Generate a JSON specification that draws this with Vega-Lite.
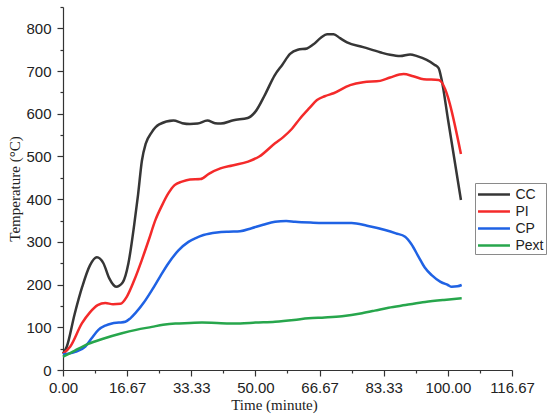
{
  "$schema": "https://vega.github.io/schema/vega-lite/v6.json",
  "width": 449,
  "height": 363,
  "autosize": "none",
  "padding": {"left": 63, "top": 7, "right": 38, "bottom": 49},
  "background": "white",
  "config": {"view": {"stroke": null}},
  "data": {
    "values": [
      {"series": "CC", "time": 0, "temp": 38},
      {"series": "CC", "time": 1, "temp": 55},
      {"series": "CC", "time": 3, "temp": 130},
      {"series": "CC", "time": 5, "temp": 195},
      {"series": "CC", "time": 7, "temp": 245},
      {"series": "CC", "time": 8.8, "temp": 264},
      {"series": "CC", "time": 10.5, "temp": 250},
      {"series": "CC", "time": 12, "temp": 215},
      {"series": "CC", "time": 13.8, "temp": 195},
      {"series": "CC", "time": 15.5, "temp": 205},
      {"series": "CC", "time": 17, "temp": 250},
      {"series": "CC", "time": 18.5, "temp": 340},
      {"series": "CC", "time": 19.5, "temp": 410},
      {"series": "CC", "time": 20.5, "temp": 490},
      {"series": "CC", "time": 21.5, "temp": 530},
      {"series": "CC", "time": 23, "temp": 556},
      {"series": "CC", "time": 25, "temp": 575},
      {"series": "CC", "time": 28.7, "temp": 584},
      {"series": "CC", "time": 31, "temp": 578},
      {"series": "CC", "time": 33, "temp": 576},
      {"series": "CC", "time": 35, "temp": 577},
      {"series": "CC", "time": 37.5, "temp": 584},
      {"series": "CC", "time": 39.5, "temp": 578},
      {"series": "CC", "time": 41, "temp": 577},
      {"series": "CC", "time": 44.3, "temp": 585},
      {"series": "CC", "time": 48, "temp": 590},
      {"series": "CC", "time": 50, "temp": 605},
      {"series": "CC", "time": 52.5, "temp": 645},
      {"series": "CC", "time": 55, "temp": 690},
      {"series": "CC", "time": 57, "temp": 715},
      {"series": "CC", "time": 59, "temp": 740},
      {"series": "CC", "time": 61, "temp": 750},
      {"series": "CC", "time": 63.4, "temp": 753},
      {"series": "CC", "time": 65, "temp": 762},
      {"series": "CC", "time": 67, "temp": 778},
      {"series": "CC", "time": 68.6, "temp": 786},
      {"series": "CC", "time": 70.3, "temp": 786},
      {"series": "CC", "time": 72, "temp": 777},
      {"series": "CC", "time": 73.8, "temp": 767},
      {"series": "CC", "time": 78, "temp": 756},
      {"series": "CC", "time": 82.4, "temp": 744},
      {"series": "CC", "time": 85, "temp": 738},
      {"series": "CC", "time": 87.6, "temp": 735},
      {"series": "CC", "time": 90.2, "temp": 739},
      {"series": "CC", "time": 92, "temp": 735},
      {"series": "CC", "time": 94.5, "temp": 726},
      {"series": "CC", "time": 96.5, "temp": 715},
      {"series": "CC", "time": 97.6, "temp": 707},
      {"series": "CC", "time": 98.4, "temp": 679},
      {"series": "CC", "time": 100, "temp": 589},
      {"series": "CC", "time": 103.4, "temp": 398},

      {"series": "PI", "time": 0, "temp": 38},
      {"series": "PI", "time": 1.9, "temp": 55},
      {"series": "PI", "time": 4.9, "temp": 109},
      {"series": "PI", "time": 7, "temp": 135},
      {"series": "PI", "time": 9, "temp": 152},
      {"series": "PI", "time": 11, "temp": 157},
      {"series": "PI", "time": 13, "temp": 154},
      {"series": "PI", "time": 14.9, "temp": 155},
      {"series": "PI", "time": 16.6, "temp": 172},
      {"series": "PI", "time": 18.5, "temp": 210},
      {"series": "PI", "time": 20.5, "temp": 258},
      {"series": "PI", "time": 22.3, "temp": 305},
      {"series": "PI", "time": 24, "temp": 351},
      {"series": "PI", "time": 25.7, "temp": 385},
      {"series": "PI", "time": 27.4, "temp": 414},
      {"series": "PI", "time": 29, "temp": 433},
      {"series": "PI", "time": 30.9, "temp": 441},
      {"series": "PI", "time": 33, "temp": 446},
      {"series": "PI", "time": 35.7, "temp": 447},
      {"series": "PI", "time": 38, "temp": 460},
      {"series": "PI", "time": 40.9, "temp": 472},
      {"series": "PI", "time": 44, "temp": 479},
      {"series": "PI", "time": 48.1, "temp": 488},
      {"series": "PI", "time": 51, "temp": 500},
      {"series": "PI", "time": 55.1, "temp": 531},
      {"series": "PI", "time": 57.3, "temp": 546},
      {"series": "PI", "time": 59.5, "temp": 565},
      {"series": "PI", "time": 61.6, "temp": 589},
      {"series": "PI", "time": 64, "temp": 613},
      {"series": "PI", "time": 66, "temp": 632},
      {"series": "PI", "time": 68, "temp": 641},
      {"series": "PI", "time": 70.3, "temp": 648},
      {"series": "PI", "time": 74.6, "temp": 667},
      {"series": "PI", "time": 78, "temp": 674},
      {"series": "PI", "time": 82.4, "temp": 677},
      {"series": "PI", "time": 85, "temp": 685},
      {"series": "PI", "time": 88.5, "temp": 693},
      {"series": "PI", "time": 91, "temp": 688},
      {"series": "PI", "time": 93.7, "temp": 681},
      {"series": "PI", "time": 97.6, "temp": 679},
      {"series": "PI", "time": 103.4, "temp": 506},

      {"series": "CP", "time": 0, "temp": 37},
      {"series": "CP", "time": 3, "temp": 42},
      {"series": "CP", "time": 5.8, "temp": 55},
      {"series": "CP", "time": 7.5, "temp": 75},
      {"series": "CP", "time": 9.2, "temp": 94},
      {"series": "CP", "time": 11, "temp": 104},
      {"series": "CP", "time": 12.7, "temp": 109},
      {"series": "CP", "time": 14.5, "temp": 111},
      {"series": "CP", "time": 16.2, "temp": 113},
      {"series": "CP", "time": 17.5, "temp": 121},
      {"series": "CP", "time": 18.8, "temp": 133},
      {"series": "CP", "time": 21, "temp": 158},
      {"series": "CP", "time": 23.1, "temp": 187},
      {"series": "CP", "time": 25.3, "temp": 220},
      {"series": "CP", "time": 27.4, "temp": 250},
      {"series": "CP", "time": 30, "temp": 280},
      {"series": "CP", "time": 32.6, "temp": 300},
      {"series": "CP", "time": 34.5, "temp": 309},
      {"series": "CP", "time": 36.5, "temp": 316},
      {"series": "CP", "time": 40, "temp": 322},
      {"series": "CP", "time": 43, "temp": 324},
      {"series": "CP", "time": 46, "temp": 325},
      {"series": "CP", "time": 49, "temp": 332},
      {"series": "CP", "time": 52, "temp": 340},
      {"series": "CP", "time": 55.1, "temp": 347},
      {"series": "CP", "time": 58, "temp": 349},
      {"series": "CP", "time": 60.3, "temp": 347},
      {"series": "CP", "time": 65, "temp": 345},
      {"series": "CP", "time": 70, "temp": 344},
      {"series": "CP", "time": 75, "temp": 344},
      {"series": "CP", "time": 79, "temp": 338},
      {"series": "CP", "time": 83.7, "temp": 328},
      {"series": "CP", "time": 86.5, "temp": 320},
      {"series": "CP", "time": 88.9, "temp": 312},
      {"series": "CP", "time": 90.5, "temp": 295},
      {"series": "CP", "time": 92.4, "temp": 265},
      {"series": "CP", "time": 94, "temp": 240},
      {"series": "CP", "time": 95.8, "temp": 222},
      {"series": "CP", "time": 98, "temp": 207},
      {"series": "CP", "time": 100, "temp": 199},
      {"series": "CP", "time": 101, "temp": 195},
      {"series": "CP", "time": 102.5, "temp": 196},
      {"series": "CP", "time": 103.6, "temp": 199},

      {"series": "Pext", "time": 0, "temp": 31},
      {"series": "Pext", "time": 3, "temp": 45},
      {"series": "Pext", "time": 6.6, "temp": 61},
      {"series": "Pext", "time": 10, "temp": 72},
      {"series": "Pext", "time": 15.3, "temp": 86},
      {"series": "Pext", "time": 19, "temp": 94},
      {"series": "Pext", "time": 23.1, "temp": 101},
      {"series": "Pext", "time": 26, "temp": 106},
      {"series": "Pext", "time": 29.2, "temp": 109},
      {"series": "Pext", "time": 33, "temp": 110},
      {"series": "Pext", "time": 36.1, "temp": 111},
      {"series": "Pext", "time": 40, "temp": 110},
      {"series": "Pext", "time": 46, "temp": 109},
      {"series": "Pext", "time": 50, "temp": 111},
      {"series": "Pext", "time": 55.1, "temp": 113},
      {"series": "Pext", "time": 60, "temp": 117},
      {"series": "Pext", "time": 63.8, "temp": 121},
      {"series": "Pext", "time": 68, "temp": 123},
      {"series": "Pext", "time": 72.5, "temp": 126},
      {"series": "Pext", "time": 77.7, "temp": 133},
      {"series": "Pext", "time": 81, "temp": 139},
      {"series": "Pext", "time": 84.6, "temp": 146},
      {"series": "Pext", "time": 89, "temp": 152},
      {"series": "Pext", "time": 94.1, "temp": 159},
      {"series": "Pext", "time": 99, "temp": 164},
      {"series": "Pext", "time": 103.6, "temp": 168}
    ]
  },
  "mark": {"type": "line", "interpolate": "monotone", "strokeWidth": 2.5},
  "encoding": {
    "x": {
      "field": "time",
      "type": "quantitative",
      "scale": {"domain": [0, 116.67], "nice": false, "zero": false},
      "axis": {
        "title": "Time (minute)",
        "titleFont": "Liberation Serif",
        "titleFontSize": 15,
        "titleFontWeight": "normal",
        "titleColor": "#222222",
        "titleX": 211,
        "titleY": 39,
        "titleAlign": "center",
        "titleBaseline": "alphabetic",
        "values": [0, 8.335, 16.67, 25, 33.33, 41.665, 50, 58.33, 66.67, 75, 83.33, 91.67, 100, 108.33, 116.67],
        "labelExpr": "abs(datum.value / 16.6667 - round(datum.value / 16.6667)) < 0.01 ? format(datum.value, '.2f') : ''",
        "labelFont": "Liberation Sans",
        "labelFontSize": 15,
        "labelColor": "#222222",
        "labelPadding": 4,
        "labelOverlap": false,
        "labelFlush": false,
        "grid": false,
        "domainColor": "#333333",
        "domainWidth": 1.2,
        "tickColor": "#333333",
        "tickWidth": 1.2,
        "tickSize": {"condition": {"test": "abs(datum.value / 16.6667 - round(datum.value / 16.6667)) < 0.01", "value": 6}, "value": 3}
      }
    },
    "y": {
      "field": "temp",
      "type": "quantitative",
      "scale": {"domain": [0, 850], "nice": false},
      "axis": {
        "title": "Temperature (°C)",
        "titleFont": "Liberation Serif",
        "titleFontSize": 15,
        "titleFontWeight": "normal",
        "titleColor": "#222222",
        "titlePadding": 3,
        "values": [0, 50, 100, 150, 200, 250, 300, 350, 400, 450, 500, 550, 600, 650, 700, 750, 800, 850],
        "labelExpr": "datum.value % 100 == 0 ? datum.value : ''",
        "labelFont": "Liberation Sans",
        "labelFontSize": 15,
        "labelColor": "#222222",
        "labelPadding": 6,
        "labelOverlap": false,
        "labelFlush": false,
        "grid": false,
        "domainColor": "#333333",
        "domainWidth": 1.2,
        "tickColor": "#333333",
        "tickWidth": 1.2,
        "tickSize": {"condition": {"test": "datum.value % 100 == 0", "value": 6}, "value": 3}
      }
    },
    "color": {
      "field": "series",
      "type": "nominal",
      "scale": {
        "domain": ["CC", "PI", "CP", "Pext"],
        "range": ["#363636", "#f42a2a", "#1f62e4", "#27a64c"]
      },
      "legend": {
        "title": null,
        "orient": "none",
        "legendX": 412,
        "legendY": 176,
        "symbolType": "M-1.88,0H1.88",
        "symbolSize": 289,
        "symbolStrokeWidth": 2.5,
        "symbolFillColor": "transparent",
        "symbolOffset": 7.5,
        "labelFont": "Liberation Sans",
        "labelFontSize": 14,
        "labelColor": "#222222",
        "labelOffset": 11.5,
        "strokeColor": "#8a8a8a",
        "fillColor": "white",
        "padding": 1.5,
        "rowPadding": 0
      }
    }
  }
}
